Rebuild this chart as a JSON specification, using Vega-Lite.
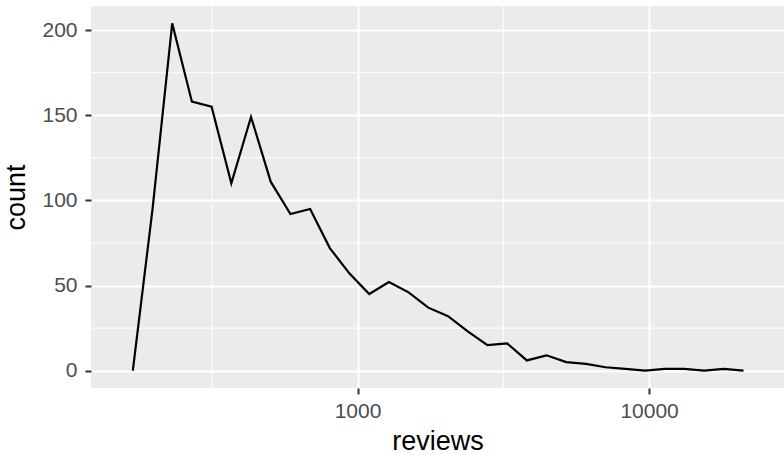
{
  "$schema": "https://vega.github.io/schema/vega-lite/v6.json",
  "width": 693,
  "height": 382,
  "autosize": {"type": "none"},
  "padding": {"left": 91, "top": 6, "right": 0, "bottom": 67},
  "background": "white",
  "config": {
    "view": {"fill": "#EBEBEB", "stroke": null},
    "axis": {
      "domain": false,
      "gridColor": "white",
      "gridWidth": 2,
      "tickColor": "#333333",
      "tickWidth": 2,
      "tickSize": 6,
      "labelFont": "Liberation Sans",
      "labelFontSize": 21,
      "labelColor": "#4D4D4D",
      "titleFont": "Liberation Sans",
      "titleFontSize": 27,
      "titleFontWeight": "normal",
      "titleColor": "black"
    }
  },
  "layer": [
    {
      "data": {"values": [{"ym": 25}, {"ym": 75}, {"ym": 125}, {"ym": 175}]},
      "mark": {"type": "rule", "color": "white", "strokeWidth": 1},
      "encoding": {
        "y": {"field": "ym", "type": "quantitative", "title": "count", "scale": {"domain": [-10.2, 214.2], "nice": false, "zero": false}}
      }
    },
    {
      "data": {"values": [{"xm": 316.23}, {"xm": 3162.3}]},
      "mark": {"type": "rule", "color": "white", "strokeWidth": 1},
      "encoding": {
        "x": {"field": "xm", "type": "quantitative", "title": "reviews", "scale": {"type": "log", "domain": [121.9, 29015], "nice": false}}
      }
    },
    {
      "data": {"values": [
        {"reviews": 169.6, "count": 0},
        {"reviews": 198.2, "count": 95},
        {"reviews": 231.5, "count": 204},
        {"reviews": 270.4, "count": 158},
        {"reviews": 315.9, "count": 155},
        {"reviews": 369.2, "count": 110},
        {"reviews": 431.3, "count": 149},
        {"reviews": 503.9, "count": 111},
        {"reviews": 588.8, "count": 92},
        {"reviews": 687.9, "count": 95},
        {"reviews": 803.6, "count": 72},
        {"reviews": 938.9, "count": 57},
        {"reviews": 1097, "count": 45},
        {"reviews": 1281.5, "count": 52},
        {"reviews": 1497, "count": 46},
        {"reviews": 1749, "count": 37},
        {"reviews": 2044, "count": 32},
        {"reviews": 2388, "count": 23},
        {"reviews": 2790, "count": 15},
        {"reviews": 3259, "count": 16},
        {"reviews": 3808, "count": 6},
        {"reviews": 4449, "count": 9},
        {"reviews": 5197, "count": 5},
        {"reviews": 6072, "count": 4},
        {"reviews": 7093, "count": 2},
        {"reviews": 8287, "count": 1},
        {"reviews": 9683, "count": 0},
        {"reviews": 11311, "count": 1},
        {"reviews": 13215, "count": 1},
        {"reviews": 15440, "count": 0},
        {"reviews": 18039, "count": 1},
        {"reviews": 21076, "count": 0}
      ]},
      "mark": {"type": "line", "color": "black", "strokeWidth": 2.2},
      "encoding": {
        "x": {
          "field": "reviews", "type": "quantitative", "title": "reviews",
          "scale": {"type": "log", "domain": [121.9, 29015], "nice": false},
          "axis": {"title": "reviews", "values": [1000, 10000], "format": "d", "labelPadding": 6, "titlePadding": 7}
        },
        "y": {
          "field": "count", "type": "quantitative", "title": "count",
          "scale": {"domain": [-10.2, 214.2], "nice": false, "zero": false},
          "axis": {"title": "count", "values": [0, 50, 100, 150, 200], "labelPadding": 8, "titlePadding": 11}
        }
      }
    }
  ]
}
